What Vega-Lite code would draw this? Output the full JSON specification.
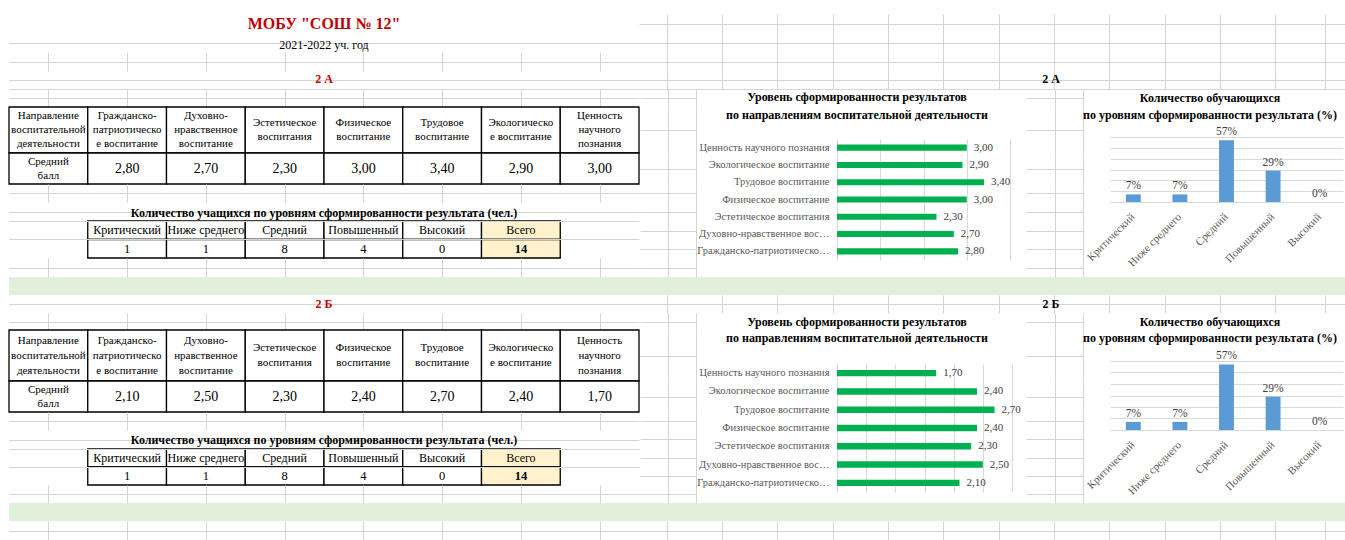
{
  "$schema": "https://vega.github.io/schema/vega-lite/v6.json",
  "background": "white",
  "padding": {"left": 8, "top": 0, "right": 0, "bottom": 0},
  "config": {
    "font": "Liberation Serif",
    "view": {"stroke": null},
    "concat": {"spacing": 0},
    "locale": {"number": {"decimal": ",", "thousands": " ", "grouping": [3], "currency": ["", " ₽"]}},
    "title": {"font": "Liberation Serif", "subtitleFont": "Liberation Serif", "color": "black"},
    "axis": {"labelFont": "Liberation Serif", "gridColor": "#D4D4D4"},
    "text": {"font": "Liberation Serif", "color": "black"}
  },
  "datasets": {
    "columns": [
      {"direction": "Направление воспитательной деятельности", "header": "Направление\nвоспитательной\nдеятельности"},
      {"direction": "Гражданско-патриотическое воспитание", "header": "Гражданско-\nпатриотическо\nе воспитание"},
      {"direction": "Духовно-нравственное воспитание", "header": "Духовно-\nнравственное\nвоспитание"},
      {"direction": "Эстетическое воспитания", "header": "Эстетическое\nвоспитания"},
      {"direction": "Физическое воспитание", "header": "Физическое\nвоспитание"},
      {"direction": "Трудовое воспитание", "header": "Трудовое\nвоспитание"},
      {"direction": "Экологическое воспитание", "header": "Экологическо\nе воспитание"},
      {"direction": "Ценность научного познания", "header": "Ценность\nнаучного\nпознания"}
    ],
    "rowhead": [
      {"direction": "Направление воспитательной деятельности", "label": "Средний\nбалл"}
    ],
    "scores": [
      {"class": "2 А", "direction": "Гражданско-патриотическое воспитание", "score": 2.8},
      {"class": "2 А", "direction": "Духовно-нравственное воспитание", "score": 2.7},
      {"class": "2 А", "direction": "Эстетическое воспитания", "score": 2.3},
      {"class": "2 А", "direction": "Физическое воспитание", "score": 3.0},
      {"class": "2 А", "direction": "Трудовое воспитание", "score": 3.4},
      {"class": "2 А", "direction": "Экологическое воспитание", "score": 2.9},
      {"class": "2 А", "direction": "Ценность научного познания", "score": 3.0},
      {"class": "2 Б", "direction": "Гражданско-патриотическое воспитание", "score": 2.1},
      {"class": "2 Б", "direction": "Духовно-нравственное воспитание", "score": 2.5},
      {"class": "2 Б", "direction": "Эстетическое воспитания", "score": 2.3},
      {"class": "2 Б", "direction": "Физическое воспитание", "score": 2.4},
      {"class": "2 Б", "direction": "Трудовое воспитание", "score": 2.7},
      {"class": "2 Б", "direction": "Экологическое воспитание", "score": 2.4},
      {"class": "2 Б", "direction": "Ценность научного познания", "score": 1.7}
    ],
    "levels": [
      {"class": "2 А", "level": "Критический", "count": 1, "share": 0.07},
      {"class": "2 А", "level": "Ниже среднего", "count": 1, "share": 0.07},
      {"class": "2 А", "level": "Средний", "count": 8, "share": 0.57},
      {"class": "2 А", "level": "Повышенный", "count": 4, "share": 0.29},
      {"class": "2 А", "level": "Высокий", "count": 0, "share": 0},
      {"class": "2 А", "level": "Всего", "count": 14},
      {"class": "2 Б", "level": "Критический", "count": 1, "share": 0.07},
      {"class": "2 Б", "level": "Ниже среднего", "count": 1, "share": 0.07},
      {"class": "2 Б", "level": "Средний", "count": 8, "share": 0.57},
      {"class": "2 Б", "level": "Повышенный", "count": 4, "share": 0.29},
      {"class": "2 Б", "level": "Высокий", "count": 0, "share": 0},
      {"class": "2 Б", "level": "Всего", "count": 14}
    ]
  },
  "spacing": 0,
  "vconcat": [
    {"width": 1337, "height": 14, "data": {"values": []}, "mark": "point"},
    {
      "bounds": "flush", "spacing": 0,
      "hconcat": [
        {"width": 630, "height": 38, "data": {"values": []}, "mark": "point",
         "encoding": {"y": {"field": "row", "type": "nominal", "scale": {"domain": ["1", "2"], "paddingInner": 0, "paddingOuter": 0}, "axis": {"grid": true, "bandPosition": 0, "values": ["2"], "labels": false, "ticks": false, "domain": false, "title": null}}},
         "title": {"text": "МОБУ \"СОШ № 12\"", "subtitle": "2021-2022 уч. год", "color": "#C00000", "fontSize": 16, "fontWeight": "bold", "subtitleColor": "black", "subtitleFontSize": 12, "subtitlePadding": 8, "offset": -37, "anchor": "middle", "frame": "group"}},
        {"width": 664, "height": 38, "data": {"values": []}, "mark": "point",
         "encoding": {"x": {"field": "column", "type": "nominal", "scale": {"domain": ["I", "J", "K", "L", "M", "N", "O", "P", "Q", "R", "S", "T"], "paddingInner": 0, "paddingOuter": 0}, "axis": {"grid": true, "bandPosition": 0, "labels": false, "ticks": false, "domain": false, "title": null}},
                      "y": {"field": "row", "type": "nominal", "scale": {"domain": ["1", "2"], "paddingInner": 0, "paddingOuter": 0}, "axis": {"grid": true, "bandPosition": 0, "labels": false, "ticks": false, "domain": false, "title": null}}}},
        {"width": 43, "height": 38, "data": {"values": []}, "mark": "point",
         "encoding": {"x": {"field": "column", "type": "nominal", "scale": {"domain": ["U"], "paddingInner": 0, "paddingOuter": 0}, "axis": {"grid": true, "bandPosition": 0, "labels": false, "ticks": false, "domain": false, "title": null}},
                      "y": {"field": "row", "type": "nominal", "scale": {"domain": ["1", "2"], "paddingInner": 0, "paddingOuter": 0}, "axis": {"grid": true, "bandPosition": 0, "labels": false, "ticks": false, "domain": false, "title": null}}}}
      ]
    },
    {
      "bounds": "flush", "spacing": 0,
      "hconcat": [
        {"width": 630, "height": 19, "data": {"values": []}, "mark": "point",
         "encoding": {"x": {"field": "column", "type": "nominal", "scale": {"domain": ["A", "B", "C", "D", "E", "F", "G", "H"], "paddingInner": 0, "paddingOuter": 0}, "axis": {"grid": true, "bandPosition": 0, "labels": false, "ticks": false, "domain": false, "title": null}},
                      "y": {"field": "row", "type": "nominal", "scale": {"domain": ["3"], "paddingInner": 0, "paddingOuter": 0}, "axis": {"grid": true, "bandPosition": 0, "labels": false, "ticks": false, "domain": false, "title": null}}}},
        {"width": 664, "height": 19, "data": {"values": []}, "mark": "point",
         "encoding": {"x": {"field": "column", "type": "nominal", "scale": {"domain": ["I", "J", "K", "L", "M", "N", "O", "P", "Q", "R", "S", "T"], "paddingInner": 0, "paddingOuter": 0}, "axis": {"grid": true, "bandPosition": 0, "labels": false, "ticks": false, "domain": false, "title": null}},
                      "y": {"field": "row", "type": "nominal", "scale": {"domain": ["3"], "paddingInner": 0, "paddingOuter": 0}, "axis": {"grid": true, "bandPosition": 0, "labels": false, "ticks": false, "domain": false, "title": null}}}},
        {"width": 43, "height": 19, "data": {"values": []}, "mark": "point",
         "encoding": {"x": {"field": "column", "type": "nominal", "scale": {"domain": ["U"], "paddingInner": 0, "paddingOuter": 0}, "axis": {"grid": true, "bandPosition": 0, "labels": false, "ticks": false, "domain": false, "title": null}},
                      "y": {"field": "row", "type": "nominal", "scale": {"domain": ["3"], "paddingInner": 0, "paddingOuter": 0}, "axis": {"grid": true, "bandPosition": 0, "labels": false, "ticks": false, "domain": false, "title": null}}}}
      ]
    },
    {
      "bounds": "flush", "spacing": 0,
      "hconcat": [
        {"width": 630, "height": 18, "data": {"values": []}, "mark": "point",
         "encoding": {"x": {"field": "column", "type": "nominal", "scale": {"domain": ["A", "B", "C", "D", "E", "F", "G", "H"], "paddingInner": 0, "paddingOuter": 0}, "axis": {"grid": false, "labels": false, "ticks": false, "domain": true, "domainColor": "#D4D4D4", "orient": "bottom", "title": null}},
                      "y": {"field": "row", "type": "nominal", "scale": {"domain": ["4"], "paddingInner": 0, "paddingOuter": 0}, "axis": {"grid": true, "bandPosition": 0, "labels": false, "ticks": false, "domain": false, "title": null}}},
         "title": {"text": "2 А", "color": "#C00000", "fontSize": 12, "fontWeight": "bold", "offset": -15}},
        {"width": 664, "height": 18, "data": {"values": []}, "mark": "point",
         "encoding": {"x": {"field": "column", "type": "nominal", "scale": {"domain": ["I", "J", "K", "L", "M", "N", "O", "P", "Q", "R", "S", "T"], "paddingInner": 0, "paddingOuter": 0}, "axis": {"grid": true, "bandPosition": 0, "labels": false, "ticks": false, "domain": true, "domainColor": "#D4D4D4", "orient": "bottom", "title": null}},
                      "y": {"field": "row", "type": "nominal", "scale": {"domain": ["4"], "paddingInner": 0, "paddingOuter": 0}, "axis": {"grid": true, "bandPosition": 0, "labels": false, "ticks": false, "domain": false, "title": null}}},
         "title": {"text": "2 А", "color": "black", "fontSize": 12, "fontWeight": "bold", "offset": -15, "dx": 80}},
        {"width": 43, "height": 18, "data": {"values": []}, "mark": "point",
         "encoding": {"x": {"field": "column", "type": "nominal", "scale": {"domain": ["U"], "paddingInner": 0, "paddingOuter": 0}, "axis": {"grid": true, "bandPosition": 0, "labels": false, "ticks": false, "domain": true, "domainColor": "#D4D4D4", "orient": "bottom", "title": null}},
                      "y": {"field": "row", "type": "nominal", "scale": {"domain": ["4"], "paddingInner": 0, "paddingOuter": 0}, "axis": {"grid": true, "bandPosition": 0, "labels": false, "ticks": false, "domain": false, "title": null}}}}
      ]
    },
    {
      "spacing": 0,
      "hconcat": [
        {
          "bounds": "flush", "spacing": 0,
          "vconcat": [
            {"width": 630, "height": 18, "data": {"values": []}, "mark": "point",
             "encoding": {"x": {"field": "column", "type": "nominal", "scale": {"domain": ["A", "B", "C", "D", "E", "F", "G", "H"], "paddingInner": 0, "paddingOuter": 0}, "axis": {"grid": true, "bandPosition": 0, "labels": false, "ticks": false, "domain": false, "title": null}},
                          "y": {"field": "row", "type": "nominal", "scale": {"domain": ["5"], "paddingInner": 0, "paddingOuter": 0}, "axis": {"grid": true, "bandPosition": 0, "labels": false, "ticks": false, "domain": false, "title": null}}}},
            {
              "width": 630, "height": 46,
              "data": {"name": "columns"},
              "encoding": {"x": {"field": "direction", "type": "nominal", "scale": {"domain": ["Направление воспитательной деятельности", "Гражданско-патриотическое воспитание", "Духовно-нравственное воспитание", "Эстетическое воспитания", "Физическое воспитание", "Трудовое воспитание", "Экологическое воспитание", "Ценность научного познания"], "paddingInner": 0, "paddingOuter": 0}, "axis": null}},
              "layer": [
                {"mark": {"type": "rect", "fill": "white", "stroke": "black", "strokeWidth": 1.3}},
                {"transform": [{"filter": "indexof(datum.header, '\\n') !== lastindexof(datum.header, '\\n')"}], "mark": {"type": "text", "fontSize": 11, "lineBreak": "\n", "lineHeight": 14, "baseline": "middle", "dy": -14}, "encoding": {"text": {"field": "header"}}},
                {"transform": [{"filter": "indexof(datum.header, '\\n') === lastindexof(datum.header, '\\n')"}], "mark": {"type": "text", "fontSize": 11, "lineBreak": "\n", "lineHeight": 14, "baseline": "middle", "dy": -7}, "encoding": {"text": {"field": "header"}}}
              ]
            },
            {
              "width": 630, "height": 31,
              "encoding": {"x": {"field": "direction", "type": "nominal", "scale": {"domain": ["Направление воспитательной деятельности", "Гражданско-патриотическое воспитание", "Духовно-нравственное воспитание", "Эстетическое воспитания", "Физическое воспитание", "Трудовое воспитание", "Экологическое воспитание", "Ценность научного познания"], "paddingInner": 0, "paddingOuter": 0}, "axis": null}},
              "layer": [
                {"data": {"name": "columns"}, "mark": {"type": "rect", "fill": "white", "stroke": "black", "strokeWidth": 1.3}},
                {"data": {"name": "rowhead"}, "mark": {"type": "text", "fontSize": 11, "lineBreak": "\n", "lineHeight": 14, "baseline": "middle", "dy": -7}, "encoding": {"text": {"field": "label"}}},
                {"data": {"name": "scores"}, "transform": [{"filter": "datum.class === '2 А'"}], "mark": {"type": "text", "fontSize": 14, "baseline": "middle"}, "encoding": {"text": {"field": "score", "type": "quantitative", "format": ".2f"}}}
              ]
            },
            {"width": 630, "height": 18, "data": {"values": []}, "mark": "point",
             "encoding": {"x": {"field": "column", "type": "nominal", "scale": {"domain": ["A", "B", "C", "D", "E", "F", "G", "H"], "paddingInner": 0, "paddingOuter": 0}, "axis": {"grid": true, "bandPosition": 0, "labels": false, "ticks": false, "domain": false, "title": null}},
                          "y": {"field": "row", "type": "nominal", "scale": {"domain": ["8"], "paddingInner": 0, "paddingOuter": 0}, "axis": {"grid": true, "bandPosition": 0, "labels": false, "ticks": false, "domain": false, "title": null}}}},
            {"width": 630, "height": 19, "data": {"values": []}, "mark": "point",
             "encoding": {"y": {"field": "row", "type": "nominal", "scale": {"domain": ["9"], "paddingInner": 0, "paddingOuter": 0}, "axis": {"grid": true, "bandPosition": 0, "labels": false, "ticks": false, "domain": false, "title": null}}},
             "title": {"text": "Количество учащихся по уровням сформированности результата (чел.)", "fontSize": 12, "fontWeight": "bold", "offset": -18}},
            {
              "width": 630, "height": 37,
              "data": {"name": "levels"},
              "transform": [{"filter": "datum.class === '2 А'"}],
              "encoding": {"x": {"field": "level", "type": "nominal", "sort": ["Критический", "Ниже среднего", "Средний", "Повышенный", "Высокий", "Всего"], "scale": {"paddingInner": 0, "paddingOuter": 1}, "axis": null}},
              "layer": [
                {"mark": {"type": "rect", "stroke": "black", "strokeWidth": 1.3}, "encoding": {"y": {"datum": "Уровень", "type": "nominal", "scale": {"domain": ["Уровень", "Количество"], "paddingInner": 0, "paddingOuter": 0}, "axis": {"grid": true, "bandPosition": 0, "labels": false, "ticks": false, "domain": false, "title": null}}, "fill": {"condition": {"test": "datum.level === 'Всего'", "value": "#FFF2CC"}, "value": "white"}}},
                {"mark": {"type": "rect", "stroke": "black", "strokeWidth": 1.3}, "encoding": {"y": {"datum": "Количество", "type": "nominal"}, "fill": {"condition": {"test": "datum.level === 'Всего'", "value": "#FFF2CC"}, "value": "white"}}},
                {"mark": {"type": "text", "fontSize": 12, "baseline": "middle"}, "encoding": {"y": {"datum": "Уровень", "type": "nominal"}, "text": {"field": "level"}}},
                {"transform": [{"filter": "datum.level !== 'Всего'"}], "mark": {"type": "text", "fontSize": 12.5, "baseline": "middle"}, "encoding": {"y": {"datum": "Количество", "type": "nominal"}, "text": {"field": "count"}}},
                {"transform": [{"filter": "datum.level === 'Всего'"}], "mark": {"type": "text", "fontSize": 12.5, "fontWeight": "bold", "baseline": "middle"}, "encoding": {"y": {"datum": "Количество", "type": "nominal"}, "text": {"field": "count"}}}
              ]
            },
            {"width": 630, "height": 19, "data": {"values": []}, "mark": "point",
             "encoding": {"x": {"field": "column", "type": "nominal", "scale": {"domain": ["A", "B", "C", "D", "E", "F", "G", "H"], "paddingInner": 0, "paddingOuter": 0}, "axis": {"grid": true, "bandPosition": 0, "labels": false, "ticks": false, "domain": false, "title": null}},
                          "y": {"field": "row", "type": "nominal", "scale": {"domain": ["12"], "paddingInner": 0, "paddingOuter": 0}, "axis": {"grid": true, "bandPosition": 0, "labels": false, "ticks": false, "domain": false, "title": null}}}}
          ]
        },
        {
          "bounds": "flush", "spacing": 0,
          "vconcat": [
            {"width": 56, "height": 18, "data": {"values": []}, "mark": "point",
             "encoding": {"x": {"field": "column", "type": "nominal", "scale": {"domain": ["I"], "paddingInner": 0, "paddingOuter": 0}, "axis": {"grid": true, "bandPosition": 0, "labels": false, "ticks": false, "domain": false, "title": null}},
                          "y": {"field": "row", "type": "nominal", "scale": {"domain": ["5"], "paddingInner": 0, "paddingOuter": 0}, "axis": {"grid": true, "bandPosition": 0, "labels": false, "ticks": false, "domain": true, "domainColor": "#D4D4D4", "orient": "right", "title": null}}}},
            {"width": 56, "height": 46, "data": {"values": []}, "mark": "point",
             "encoding": {"x": {"field": "column", "type": "nominal", "scale": {"domain": ["I"], "paddingInner": 0, "paddingOuter": 0}, "axis": {"grid": true, "bandPosition": 0, "labels": false, "ticks": false, "domain": false, "title": null}},
                          "y": {"field": "row", "type": "nominal", "scale": {"domain": ["6"], "paddingInner": 0, "paddingOuter": 0}, "axis": {"grid": true, "bandPosition": 0, "labels": false, "ticks": false, "domain": true, "domainColor": "#D4D4D4", "orient": "right", "title": null}}}},
            {"width": 56, "height": 31, "data": {"values": []}, "mark": "point",
             "encoding": {"x": {"field": "column", "type": "nominal", "scale": {"domain": ["I"], "paddingInner": 0, "paddingOuter": 0}, "axis": {"grid": true, "bandPosition": 0, "labels": false, "ticks": false, "domain": false, "title": null}},
                          "y": {"field": "row", "type": "nominal", "scale": {"domain": ["7"], "paddingInner": 0, "paddingOuter": 0}, "axis": {"grid": true, "bandPosition": 0, "labels": false, "ticks": false, "domain": true, "domainColor": "#D4D4D4", "orient": "right", "title": null}}}},
            {"width": 56, "height": 93, "data": {"values": []}, "mark": "point",
             "encoding": {"x": {"field": "column", "type": "nominal", "scale": {"domain": ["I"], "paddingInner": 0, "paddingOuter": 0}, "axis": {"grid": true, "bandPosition": 0, "labels": false, "ticks": false, "domain": false, "title": null}},
                          "y": {"field": "row", "type": "nominal", "scale": {"domain": ["8", "9", "10", "11", "12"], "paddingInner": 0, "paddingOuter": 0}, "axis": {"grid": true, "bandPosition": 0, "labels": false, "ticks": false, "domain": true, "domainColor": "#D4D4D4", "orient": "right", "title": null}}}}
          ]
        },
        {
          "bounds": "flush", "spacing": 0,
          "vconcat": [
            {"width": 173, "height": 50, "data": {"values": []}, "mark": "point", "title": {"text": ["Уровень сформированности результатов", "по направлениям воспитательной деятельности"], "fontSize": 12, "fontWeight": "bold", "lineHeight": 18, "frame": "group", "dx": -66.5, "offset": -33}},
            {
              "width": 173, "height": 121,
              "data": {"name": "scores"},
              "transform": [{"filter": "datum.class === '2 А'"}],
              "encoding": {
                "y": {"field": "direction", "type": "nominal", "sort": ["Ценность научного познания", "Экологическое воспитание", "Трудовое воспитание", "Физическое воспитание", "Эстетическое воспитания", "Духовно-нравственное воспитание", "Гражданско-патриотическое воспитание"], "scale": {"paddingInner": 0.65, "paddingOuter": 0.325}, "axis": {"title": null, "ticks": false, "tickSize": 0, "domain": false, "labelFontSize": 10.5, "labelColor": "#595959", "labelPadding": 8, "labelLimit": 136}},
                "x": {"field": "score", "type": "quantitative", "scale": {"domain": [0, 4]}, "axis": {"title": null, "labels": false, "ticks": false, "domain": false, "grid": true, "gridColor": "#D9D9D9", "values": [0, 1, 2, 3, 4]}}
              },
              "layer": [
                {"mark": {"type": "bar", "color": "#00B050"}},
                {"mark": {"type": "text", "align": "left", "dx": 7, "fontSize": 11, "color": "#404040"}, "encoding": {"text": {"field": "score", "type": "quantitative", "format": ".2f"}}}
              ]
            },
            {"width": 189, "height": 17, "data": {"values": []}, "mark": "point"}
          ]
        },
        {
          "bounds": "flush", "spacing": 0,
          "vconcat": [
            {"width": 57, "height": 18, "data": {"values": []}, "mark": "point",
             "encoding": {"x": {"field": "column", "type": "nominal", "scale": {"domain": ["P"], "paddingInner": 0, "paddingOuter": 0}, "axis": {"grid": true, "bandPosition": 0, "labels": false, "ticks": false, "domain": false, "title": null}},
                          "y": {"field": "row", "type": "nominal", "scale": {"domain": ["5"], "paddingInner": 0, "paddingOuter": 0}, "axis": {"grid": true, "bandPosition": 0, "labels": false, "ticks": false, "domain": true, "domainColor": "#D4D4D4", "orient": "right", "title": null}}}},
            {"width": 57, "height": 46, "data": {"values": []}, "mark": "point",
             "encoding": {"x": {"field": "column", "type": "nominal", "scale": {"domain": ["P"], "paddingInner": 0, "paddingOuter": 0}, "axis": {"grid": true, "bandPosition": 0, "labels": false, "ticks": false, "domain": false, "title": null}},
                          "y": {"field": "row", "type": "nominal", "scale": {"domain": ["6"], "paddingInner": 0, "paddingOuter": 0}, "axis": {"grid": true, "bandPosition": 0, "labels": false, "ticks": false, "domain": true, "domainColor": "#D4D4D4", "orient": "right", "title": null}}}},
            {"width": 57, "height": 31, "data": {"values": []}, "mark": "point",
             "encoding": {"x": {"field": "column", "type": "nominal", "scale": {"domain": ["P"], "paddingInner": 0, "paddingOuter": 0}, "axis": {"grid": true, "bandPosition": 0, "labels": false, "ticks": false, "domain": false, "title": null}},
                          "y": {"field": "row", "type": "nominal", "scale": {"domain": ["7"], "paddingInner": 0, "paddingOuter": 0}, "axis": {"grid": true, "bandPosition": 0, "labels": false, "ticks": false, "domain": true, "domainColor": "#D4D4D4", "orient": "right", "title": null}}}},
            {"width": 57, "height": 93, "data": {"values": []}, "mark": "point",
             "encoding": {"x": {"field": "column", "type": "nominal", "scale": {"domain": ["P"], "paddingInner": 0, "paddingOuter": 0}, "axis": {"grid": true, "bandPosition": 0, "labels": false, "ticks": false, "domain": false, "title": null}},
                          "y": {"field": "row", "type": "nominal", "scale": {"domain": ["8", "9", "10", "11", "12"], "paddingInner": 0, "paddingOuter": 0}, "axis": {"grid": true, "bandPosition": 0, "labels": false, "ticks": false, "domain": true, "domainColor": "#D4D4D4", "orient": "right", "title": null}}}}
          ]
        },
        {
          "bounds": "flush", "spacing": 0,
          "vconcat": [
            {"width": 233, "height": 48, "data": {"values": []}, "mark": "point", "title": {"text": ["Количество обучающихся", "по уровням сформированности результата (%)"], "fontSize": 12, "fontWeight": "bold", "lineHeight": 17, "frame": "group", "dx": -16.5, "offset": -33}},
            {
              "width": 233, "height": 65,
              "data": {"name": "levels"},
              "transform": [{"filter": "datum.class === '2 А' && datum.level !== 'Всего'"}],
              "encoding": {
                "x": {"field": "level", "type": "nominal", "sort": ["Критический", "Ниже среднего", "Средний", "Повышенный", "Высокий"], "scale": {"paddingInner": 0.68, "paddingOuter": 0.34}, "axis": {"title": null, "labelAngle": -45, "labelAlign": "right", "labelBaseline": "middle", "labelFontSize": 11, "labelColor": "#595959", "ticks": false, "tickSize": 0, "domain": false, "labelPadding": 13}},
                "y": {"field": "share", "type": "quantitative", "scale": {"domain": [0, 0.6]}, "axis": {"title": null, "labels": false, "ticks": false, "domain": false, "grid": true, "gridColor": "#D9D9D9", "values": [0, 0.1, 0.2, 0.3, 0.4, 0.5, 0.6]}}
              },
              "layer": [
                {"mark": {"type": "bar", "color": "#5B9BD5"}},
                {"mark": {"type": "text", "baseline": "bottom", "dy": -3, "fontSize": 11.5, "color": "#404040"}, "encoding": {"text": {"field": "share", "type": "quantitative", "format": ".0%"}}}
              ]
            }
          ]
        }
      ]
    },
    {"width": 1337, "height": 18, "data": {"values": []}, "mark": "point", "view": {"fill": "#E2EFDA", "stroke": null}},
    {
      "bounds": "flush", "spacing": 0,
      "hconcat": [
        {"width": 630, "height": 18, "data": {"values": []}, "mark": "point",
         "encoding": {"y": {"field": "row", "type": "nominal", "scale": {"domain": ["14"], "paddingInner": 0, "paddingOuter": 0}, "axis": {"grid": true, "bandPosition": 0, "labels": false, "ticks": false, "domain": false, "title": null}}},
         "title": {"text": "2 Б", "color": "#C00000", "fontSize": 12, "fontWeight": "bold", "offset": -16}},
        {"width": 664, "height": 18, "data": {"values": []}, "mark": "point",
         "encoding": {"x": {"field": "column", "type": "nominal", "scale": {"domain": ["I", "J", "K", "L", "M", "N", "O", "P", "Q", "R", "S", "T"], "paddingInner": 0, "paddingOuter": 0}, "axis": {"grid": true, "bandPosition": 0, "labels": false, "ticks": false, "domain": false, "title": null}},
                      "y": {"field": "row", "type": "nominal", "scale": {"domain": ["14"], "paddingInner": 0, "paddingOuter": 0}, "axis": {"grid": true, "bandPosition": 0, "labels": false, "ticks": false, "domain": false, "title": null}}},
         "title": {"text": "2 Б", "color": "black", "fontSize": 12, "fontWeight": "bold", "offset": -16, "dx": 80}},
        {"width": 43, "height": 18, "data": {"values": []}, "mark": "point",
         "encoding": {"x": {"field": "column", "type": "nominal", "scale": {"domain": ["U"], "paddingInner": 0, "paddingOuter": 0}, "axis": {"grid": true, "bandPosition": 0, "labels": false, "ticks": false, "domain": false, "title": null}},
                      "y": {"field": "row", "type": "nominal", "scale": {"domain": ["14"], "paddingInner": 0, "paddingOuter": 0}, "axis": {"grid": true, "bandPosition": 0, "labels": false, "ticks": false, "domain": false, "title": null}}}}
      ]
    },
    {
      "spacing": 0,
      "hconcat": [
        {
          "bounds": "flush", "spacing": 0,
          "vconcat": [
            {"width": 630, "height": 17, "data": {"values": []}, "mark": "point",
             "encoding": {"x": {"field": "column", "type": "nominal", "scale": {"domain": ["A", "B", "C", "D", "E", "F", "G", "H"], "paddingInner": 0, "paddingOuter": 0}, "axis": {"grid": true, "bandPosition": 0, "labels": false, "ticks": false, "domain": false, "title": null}},
                          "y": {"field": "row", "type": "nominal", "scale": {"domain": ["15"], "paddingInner": 0, "paddingOuter": 0}, "axis": {"grid": true, "bandPosition": 0, "labels": false, "ticks": false, "domain": false, "title": null}}}},
            {
              "width": 630, "height": 51,
              "data": {"name": "columns"},
              "encoding": {"x": {"field": "direction", "type": "nominal", "scale": {"domain": ["Направление воспитательной деятельности", "Гражданско-патриотическое воспитание", "Духовно-нравственное воспитание", "Эстетическое воспитания", "Физическое воспитание", "Трудовое воспитание", "Экологическое воспитание", "Ценность научного познания"], "paddingInner": 0, "paddingOuter": 0}, "axis": null}},
              "layer": [
                {"mark": {"type": "rect", "fill": "white", "stroke": "black", "strokeWidth": 1.3}},
                {"transform": [{"filter": "indexof(datum.header, '\\n') !== lastindexof(datum.header, '\\n')"}], "mark": {"type": "text", "fontSize": 11, "lineBreak": "\n", "lineHeight": 15, "baseline": "middle", "dy": -15}, "encoding": {"text": {"field": "header"}}},
                {"transform": [{"filter": "indexof(datum.header, '\\n') === lastindexof(datum.header, '\\n')"}], "mark": {"type": "text", "fontSize": 11, "lineBreak": "\n", "lineHeight": 15, "baseline": "middle", "dy": -7.5}, "encoding": {"text": {"field": "header"}}}
              ]
            },
            {
              "width": 630, "height": 31,
              "encoding": {"x": {"field": "direction", "type": "nominal", "scale": {"domain": ["Направление воспитательной деятельности", "Гражданско-патриотическое воспитание", "Духовно-нравственное воспитание", "Эстетическое воспитания", "Физическое воспитание", "Трудовое воспитание", "Экологическое воспитание", "Ценность научного познания"], "paddingInner": 0, "paddingOuter": 0}, "axis": null}},
              "layer": [
                {"data": {"name": "columns"}, "mark": {"type": "rect", "fill": "white", "stroke": "black", "strokeWidth": 1.3}},
                {"data": {"name": "rowhead"}, "mark": {"type": "text", "fontSize": 11, "lineBreak": "\n", "lineHeight": 14, "baseline": "middle", "dy": -7}, "encoding": {"text": {"field": "label"}}},
                {"data": {"name": "scores"}, "transform": [{"filter": "datum.class === '2 Б'"}], "mark": {"type": "text", "fontSize": 14, "baseline": "middle"}, "encoding": {"text": {"field": "score", "type": "quantitative", "format": ".2f"}}}
              ]
            },
            {"width": 630, "height": 18, "data": {"values": []}, "mark": "point",
             "encoding": {"x": {"field": "column", "type": "nominal", "scale": {"domain": ["A", "B", "C", "D", "E", "F", "G", "H"], "paddingInner": 0, "paddingOuter": 0}, "axis": {"grid": true, "bandPosition": 0, "labels": false, "ticks": false, "domain": false, "title": null}},
                          "y": {"field": "row", "type": "nominal", "scale": {"domain": ["18"], "paddingInner": 0, "paddingOuter": 0}, "axis": {"grid": true, "bandPosition": 0, "labels": false, "ticks": false, "domain": false, "title": null}}}},
            {"width": 630, "height": 19, "data": {"values": []}, "mark": "point",
             "encoding": {"y": {"field": "row", "type": "nominal", "scale": {"domain": ["19"], "paddingInner": 0, "paddingOuter": 0}, "axis": {"grid": true, "bandPosition": 0, "labels": false, "ticks": false, "domain": false, "title": null}}},
             "title": {"text": "Количество учащихся по уровням сформированности результата (чел.)", "fontSize": 12, "fontWeight": "bold", "offset": -17}},
            {
              "width": 630, "height": 36,
              "data": {"name": "levels"},
              "transform": [{"filter": "datum.class === '2 Б'"}],
              "encoding": {"x": {"field": "level", "type": "nominal", "sort": ["Критический", "Ниже среднего", "Средний", "Повышенный", "Высокий", "Всего"], "scale": {"paddingInner": 0, "paddingOuter": 1}, "axis": null}},
              "layer": [
                {"mark": {"type": "rect", "stroke": "black", "strokeWidth": 1.3}, "encoding": {"y": {"datum": "Уровень", "type": "nominal", "scale": {"domain": ["Уровень", "Количество"], "paddingInner": 0, "paddingOuter": 0}, "axis": {"grid": true, "bandPosition": 0, "labels": false, "ticks": false, "domain": false, "title": null}}, "fill": {"condition": {"test": "datum.level === 'Всего'", "value": "#FFF2CC"}, "value": "white"}}},
                {"mark": {"type": "rect", "stroke": "black", "strokeWidth": 1.3}, "encoding": {"y": {"datum": "Количество", "type": "nominal"}, "fill": {"condition": {"test": "datum.level === 'Всего'", "value": "#FFF2CC"}, "value": "white"}}},
                {"mark": {"type": "text", "fontSize": 12, "baseline": "middle"}, "encoding": {"y": {"datum": "Уровень", "type": "nominal"}, "text": {"field": "level"}}},
                {"transform": [{"filter": "datum.level !== 'Всего'"}], "mark": {"type": "text", "fontSize": 12.5, "baseline": "middle"}, "encoding": {"y": {"datum": "Количество", "type": "nominal"}, "text": {"field": "count"}}},
                {"transform": [{"filter": "datum.level === 'Всего'"}], "mark": {"type": "text", "fontSize": 12.5, "fontWeight": "bold", "baseline": "middle"}, "encoding": {"y": {"datum": "Количество", "type": "nominal"}, "text": {"field": "count"}}}
              ]
            },
            {"width": 630, "height": 18, "data": {"values": []}, "mark": "point",
             "encoding": {"x": {"field": "column", "type": "nominal", "scale": {"domain": ["A", "B", "C", "D", "E", "F", "G", "H"], "paddingInner": 0, "paddingOuter": 0}, "axis": {"grid": true, "bandPosition": 0, "labels": false, "ticks": false, "domain": false, "title": null}},
                          "y": {"field": "row", "type": "nominal", "scale": {"domain": ["22"], "paddingInner": 0, "paddingOuter": 0}, "axis": {"grid": true, "bandPosition": 0, "labels": false, "ticks": false, "domain": false, "title": null}}}}
          ]
        },
        {
          "bounds": "flush", "spacing": 0,
          "vconcat": [
            {"width": 56, "height": 17, "data": {"values": []}, "mark": "point",
             "encoding": {"x": {"field": "column", "type": "nominal", "scale": {"domain": ["I"], "paddingInner": 0, "paddingOuter": 0}, "axis": {"grid": true, "bandPosition": 0, "labels": false, "ticks": false, "domain": false, "title": null}},
                          "y": {"field": "row", "type": "nominal", "scale": {"domain": ["15"], "paddingInner": 0, "paddingOuter": 0}, "axis": {"grid": true, "bandPosition": 0, "labels": false, "ticks": false, "domain": true, "domainColor": "#D4D4D4", "orient": "right", "title": null}}}},
            {"width": 56, "height": 51, "data": {"values": []}, "mark": "point",
             "encoding": {"x": {"field": "column", "type": "nominal", "scale": {"domain": ["I"], "paddingInner": 0, "paddingOuter": 0}, "axis": {"grid": true, "bandPosition": 0, "labels": false, "ticks": false, "domain": false, "title": null}},
                          "y": {"field": "row", "type": "nominal", "scale": {"domain": ["16"], "paddingInner": 0, "paddingOuter": 0}, "axis": {"grid": true, "bandPosition": 0, "labels": false, "ticks": false, "domain": true, "domainColor": "#D4D4D4", "orient": "right", "title": null}}}},
            {"width": 56, "height": 31, "data": {"values": []}, "mark": "point",
             "encoding": {"x": {"field": "column", "type": "nominal", "scale": {"domain": ["I"], "paddingInner": 0, "paddingOuter": 0}, "axis": {"grid": true, "bandPosition": 0, "labels": false, "ticks": false, "domain": false, "title": null}},
                          "y": {"field": "row", "type": "nominal", "scale": {"domain": ["17"], "paddingInner": 0, "paddingOuter": 0}, "axis": {"grid": true, "bandPosition": 0, "labels": false, "ticks": false, "domain": true, "domainColor": "#D4D4D4", "orient": "right", "title": null}}}},
            {"width": 56, "height": 91, "data": {"values": []}, "mark": "point",
             "encoding": {"x": {"field": "column", "type": "nominal", "scale": {"domain": ["I"], "paddingInner": 0, "paddingOuter": 0}, "axis": {"grid": true, "bandPosition": 0, "labels": false, "ticks": false, "domain": false, "title": null}},
                          "y": {"field": "row", "type": "nominal", "scale": {"domain": ["18", "19", "20", "21", "22"], "paddingInner": 0, "paddingOuter": 0}, "axis": {"grid": true, "bandPosition": 0, "labels": false, "ticks": false, "domain": true, "domainColor": "#D4D4D4", "orient": "right", "title": null}}}}
          ]
        },
        {
          "bounds": "flush", "spacing": 0,
          "vconcat": [
            {"width": 173, "height": 51, "data": {"values": []}, "mark": "point", "title": {"text": ["Уровень сформированности результатов", "по направлениям воспитательной деятельности"], "fontSize": 12, "fontWeight": "bold", "lineHeight": 16, "frame": "group", "dx": -66.5, "offset": -32}},
            {
              "width": 175, "height": 128,
              "data": {"name": "scores"},
              "transform": [{"filter": "datum.class === '2 Б'"}],
              "encoding": {
                "y": {"field": "direction", "type": "nominal", "sort": ["Ценность научного познания", "Экологическое воспитание", "Трудовое воспитание", "Физическое воспитание", "Эстетическое воспитания", "Духовно-нравственное воспитание", "Гражданско-патриотическое воспитание"], "scale": {"paddingInner": 0.65, "paddingOuter": 0.325}, "axis": {"title": null, "ticks": false, "tickSize": 0, "domain": false, "labelFontSize": 10.5, "labelColor": "#595959", "labelPadding": 8, "labelLimit": 136}},
                "x": {"field": "score", "type": "quantitative", "scale": {"domain": [0, 3]}, "axis": {"title": null, "labels": false, "ticks": false, "domain": false, "grid": true, "gridColor": "#D9D9D9", "values": [0, 0.5, 1, 1.5, 2, 2.5, 3]}}
              },
              "layer": [
                {"mark": {"type": "bar", "color": "#00B050"}},
                {"mark": {"type": "text", "align": "left", "dx": 7, "fontSize": 11, "color": "#404040"}, "encoding": {"text": {"field": "score", "type": "quantitative", "format": ".2f"}}}
              ]
            },
            {"width": 189, "height": 11, "data": {"values": []}, "mark": "point"}
          ]
        },
        {
          "bounds": "flush", "spacing": 0,
          "vconcat": [
            {"width": 57, "height": 17, "data": {"values": []}, "mark": "point",
             "encoding": {"x": {"field": "column", "type": "nominal", "scale": {"domain": ["P"], "paddingInner": 0, "paddingOuter": 0}, "axis": {"grid": true, "bandPosition": 0, "labels": false, "ticks": false, "domain": false, "title": null}},
                          "y": {"field": "row", "type": "nominal", "scale": {"domain": ["15"], "paddingInner": 0, "paddingOuter": 0}, "axis": {"grid": true, "bandPosition": 0, "labels": false, "ticks": false, "domain": true, "domainColor": "#D4D4D4", "orient": "right", "title": null}}}},
            {"width": 57, "height": 51, "data": {"values": []}, "mark": "point",
             "encoding": {"x": {"field": "column", "type": "nominal", "scale": {"domain": ["P"], "paddingInner": 0, "paddingOuter": 0}, "axis": {"grid": true, "bandPosition": 0, "labels": false, "ticks": false, "domain": false, "title": null}},
                          "y": {"field": "row", "type": "nominal", "scale": {"domain": ["16"], "paddingInner": 0, "paddingOuter": 0}, "axis": {"grid": true, "bandPosition": 0, "labels": false, "ticks": false, "domain": true, "domainColor": "#D4D4D4", "orient": "right", "title": null}}}},
            {"width": 57, "height": 31, "data": {"values": []}, "mark": "point",
             "encoding": {"x": {"field": "column", "type": "nominal", "scale": {"domain": ["P"], "paddingInner": 0, "paddingOuter": 0}, "axis": {"grid": true, "bandPosition": 0, "labels": false, "ticks": false, "domain": false, "title": null}},
                          "y": {"field": "row", "type": "nominal", "scale": {"domain": ["17"], "paddingInner": 0, "paddingOuter": 0}, "axis": {"grid": true, "bandPosition": 0, "labels": false, "ticks": false, "domain": true, "domainColor": "#D4D4D4", "orient": "right", "title": null}}}},
            {"width": 57, "height": 91, "data": {"values": []}, "mark": "point",
             "encoding": {"x": {"field": "column", "type": "nominal", "scale": {"domain": ["P"], "paddingInner": 0, "paddingOuter": 0}, "axis": {"grid": true, "bandPosition": 0, "labels": false, "ticks": false, "domain": false, "title": null}},
                          "y": {"field": "row", "type": "nominal", "scale": {"domain": ["18", "19", "20", "21", "22"], "paddingInner": 0, "paddingOuter": 0}, "axis": {"grid": true, "bandPosition": 0, "labels": false, "ticks": false, "domain": true, "domainColor": "#D4D4D4", "orient": "right", "title": null}}}}
          ]
        },
        {
          "bounds": "flush", "spacing": 0,
          "vconcat": [
            {"width": 233, "height": 48, "data": {"values": []}, "mark": "point", "title": {"text": ["Количество обучающихся", "по уровням сформированности результата (%)"], "fontSize": 12, "fontWeight": "bold", "lineHeight": 16, "frame": "group", "dx": -16.5, "offset": -32}},
            {
              "width": 233, "height": 69,
              "data": {"name": "levels"},
              "transform": [{"filter": "datum.class === '2 Б' && datum.level !== 'Всего'"}],
              "encoding": {
                "x": {"field": "level", "type": "nominal", "sort": ["Критический", "Ниже среднего", "Средний", "Повышенный", "Высокий"], "scale": {"paddingInner": 0.68, "paddingOuter": 0.34}, "axis": {"title": null, "labelAngle": -45, "labelAlign": "right", "labelBaseline": "middle", "labelFontSize": 11, "labelColor": "#595959", "ticks": false, "tickSize": 0, "domain": false, "labelPadding": 13}},
                "y": {"field": "share", "type": "quantitative", "scale": {"domain": [0, 0.6]}, "axis": {"title": null, "labels": false, "ticks": false, "domain": false, "grid": true, "gridColor": "#D9D9D9", "values": [0, 0.1, 0.2, 0.3, 0.4, 0.5, 0.6]}}
              },
              "layer": [
                {"mark": {"type": "bar", "color": "#5B9BD5"}},
                {"mark": {"type": "text", "baseline": "bottom", "dy": -3, "fontSize": 11.5, "color": "#404040"}, "encoding": {"text": {"field": "share", "type": "quantitative", "format": ".0%"}}}
              ]
            }
          ]
        }
      ]
    },
    {"width": 1337, "height": 18, "data": {"values": []}, "mark": "point", "view": {"fill": "#E2EFDA", "stroke": null}},
    {
      "bounds": "flush", "spacing": 0,
      "hconcat": [
        {"width": 630, "height": 19, "data": {"values": []}, "mark": "point",
         "encoding": {"x": {"field": "column", "type": "nominal", "scale": {"domain": ["A", "B", "C", "D", "E", "F", "G", "H"], "paddingInner": 0, "paddingOuter": 0}, "axis": {"grid": true, "bandPosition": 0, "labels": false, "ticks": false, "domain": false, "title": null}},
                      "y": {"field": "row", "type": "nominal", "scale": {"domain": ["24"], "paddingInner": 0, "paddingOuter": 0}, "axis": {"grid": true, "bandPosition": 0, "labels": false, "ticks": false, "domain": false, "title": null}}}},
        {"width": 664, "height": 19, "data": {"values": []}, "mark": "point",
         "encoding": {"x": {"field": "column", "type": "nominal", "scale": {"domain": ["I", "J", "K", "L", "M", "N", "O", "P", "Q", "R", "S", "T"], "paddingInner": 0, "paddingOuter": 0}, "axis": {"grid": true, "bandPosition": 0, "labels": false, "ticks": false, "domain": false, "title": null}},
                      "y": {"field": "row", "type": "nominal", "scale": {"domain": ["24"], "paddingInner": 0, "paddingOuter": 0}, "axis": {"grid": true, "bandPosition": 0, "labels": false, "ticks": false, "domain": false, "title": null}}}},
        {"width": 43, "height": 19, "data": {"values": []}, "mark": "point",
         "encoding": {"x": {"field": "column", "type": "nominal", "scale": {"domain": ["U"], "paddingInner": 0, "paddingOuter": 0}, "axis": {"grid": true, "bandPosition": 0, "labels": false, "ticks": false, "domain": false, "title": null}},
                      "y": {"field": "row", "type": "nominal", "scale": {"domain": ["24"], "paddingInner": 0, "paddingOuter": 0}, "axis": {"grid": true, "bandPosition": 0, "labels": false, "ticks": false, "domain": false, "title": null}}}}
      ]
    }
  ]
}
